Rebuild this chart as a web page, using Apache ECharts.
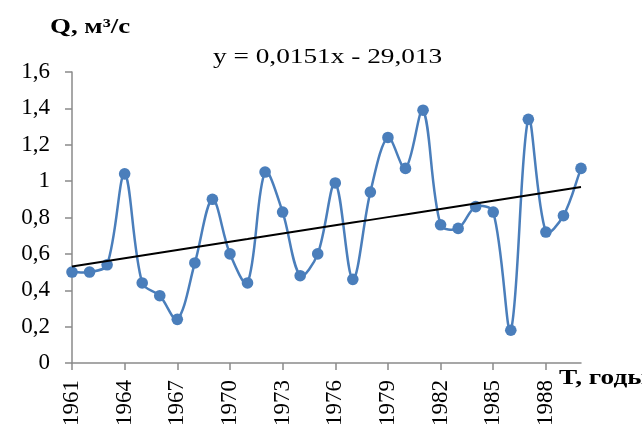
<!DOCTYPE html>
<html>
<head>
<meta charset="utf-8">
<script src="https://cdn.jsdelivr.net/npm/echarts@6/dist/echarts.min.js"></script>
<style>
html,body{margin:0;padding:0;background:#fff;}
#chart{width:642px;height:431px;}
</style>
</head>
<body>
<div id="chart"></div>
<script>
const years = ['1961','1962','1963','1964','1965','1966','1967','1968','1969','1970',
  '1971','1972','1973','1974','1975','1976','1977','1978','1979','1980',
  '1981','1982','1983','1984','1985','1986','1987','1988','1989','1990'];
const discharge = [0.50,0.50,0.54,1.04,0.44,0.37,0.24,0.55,0.90,0.60,
  0.44,1.05,0.83,0.48,0.60,0.99,0.46,0.94,1.24,1.07,
  1.39,0.76,0.74,0.86,0.83,0.18,1.34,0.72,0.81,1.07];
const yTicks = [0,0.2,0.4,0.6,0.8,1.0,1.2,1.4,1.6];
const titleText = 'Q, м³/с';
const equationText = 'y = 0,0151x - 29,013';
const xAxisName = 'T, годы';

// linear least-squares trend line over the data (as the source trendline)
const n = discharge.length;
let sx=0, sy=0, sxy=0, sxx=0;
discharge.forEach((v,i)=>{ sx+=i; sy+=v; sxy+=i*v; sxx+=i*i; });
const slope = (n*sxy - sx*sy)/(n*sxx - sx*sx);
const intercept = (sy - slope*sx)/n;
const trend = discharge.map((v,i)=> +(intercept + slope*i).toFixed(4));

const serif = '"Liberation Serif","Times New Roman",serif';
const axisGray = '#8a8a8a';
const blue = '#4a7ebb';

// smoothed line (distance-weighted Bezier) drawn through the axes' coords
function renderSmooth(params, api){
  const i = params.dataIndex;
  const pt = k => { const kk = Math.max(0, Math.min(n-1, k)); return api.coord([kk, discharge[kk]]); };
  const dist = (a,b) => Math.hypot(a[0]-b[0], a[1]-b[1]);
  const p0 = pt(i-1), p1 = pt(i), p2 = pt(i+1), p3 = pt(i+2);
  const children = [];
  if (i < n-1){
    const s = 1/3;
    const d01 = dist(p0,p1), d12 = dist(p1,p2), d23 = dist(p2,p3);
    const r1 = (d01+d12) ? s*d12/(d01+d12) : 0;
    const r2 = (d12+d23) ? s*d12/(d12+d23) : 0;
    children.push({
      type:'bezierCurve', z2:1,
      shape:{x1:p1[0], y1:p1[1], x2:p2[0], y2:p2[1],
        cpx1:p1[0]+(p2[0]-p0[0])*r1, cpy1:p1[1]+(p2[1]-p0[1])*r1,
        cpx2:p2[0]-(p3[0]-p1[0])*r2, cpy2:p2[1]-(p3[1]-p1[1])*r2},
      style:{stroke:blue, lineWidth:2.5, fill:null}
    });
  }
  children.push({type:'circle', z2:10, shape:{cx:p1[0], cy:p1[1], r:5.8}, style:{fill:blue}});
  return {type:'group', children};
}

const chart = echarts.init(document.getElementById('chart'), null, {renderer:'canvas'});
chart.setOption({
  animation:false,
  backgroundColor:'#fff',
  grid:{left:72, right:61, top:72, bottom:68, containLabel:false},
  xAxis:{
    type:'category', data:years, boundaryGap:false,
    axisLine:{lineStyle:{color:axisGray, width:1.5}},
    axisTick:{interval:2, length:7, lineStyle:{color:axisGray, width:1.5}},
    axisLabel:{interval:2, rotate:90, margin:17, fontFamily:serif, fontSize:23, color:'#000'},
    splitLine:{show:false}
  },
  yAxis:{
    type:'value', min:yTicks[0], max:yTicks[yTicks.length-1], interval:0.2,
    axisLine:{show:true, lineStyle:{color:axisGray, width:1.5}},
    axisTick:{show:true, length:7, lineStyle:{color:axisGray, width:1.5}},
    axisLabel:{margin:22, fontFamily:serif, fontSize:23, color:'#000',
      formatter:v=>String(+v.toFixed(1)).replace('.',',')},
    splitLine:{show:false}
  },
  series:[
    {type:'custom', data:discharge.map((v,i)=>[i,v]), renderItem:renderSmooth,
     encode:{x:0, y:1}, z:2, silent:true},
    {type:'line', data:trend, smooth:false, symbol:'none',
     lineStyle:{color:'#000', width:2}, z:3, silent:true}
  ],
  graphic:[
    {type:'text', x:50, y:28, scaleX:1.28,
     style:{text:titleText, font:'bold 21px '+serif, fill:'#000', textAlign:'left', textVerticalAlign:'middle'}},
    {type:'text', x:213, y:57, scaleX:1.3,
     style:{text:equationText, font:'21px '+serif, fill:'#000', textAlign:'left', textVerticalAlign:'middle'}},
    {type:'text', x:559, y:379, scaleX:1.3,
     style:{text:xAxisName, font:'bold 21px '+serif, fill:'#000', textAlign:'left', textVerticalAlign:'middle'}}
  ]
});
</script>
</body>
</html>
